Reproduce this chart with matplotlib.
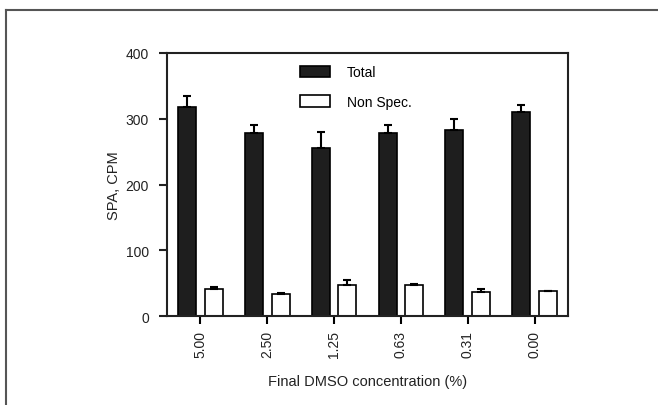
import numpy as np
import matplotlib
matplotlib.use("Agg")
import matplotlib.pyplot as plt
from matplotlib.lines import Line2D

plt.rcParams['font.family'] = ['Liberation Sans', 'DejaVu Sans']

conc = ["5.00", "2.50", "1.25", "0.63", "0.31", "0.00"]
total = [318, 278, 256, 279, 283, 310]
total_err = [16, 12, 24, 11, 17, 11]
nonspec = [41, 33.5, 47.5, 47.5, 36, 37.5]
nonspec_err = [2.5, 2, 7, 1, 5, 0.5]

fig = plt.figure(figsize=(6.58, 4.06), dpi=100)
ax = fig.add_axes([0.2538, 0.2192, 0.6094, 0.6478])

x = np.arange(len(conc))
w = 0.27
off = 0.2
ax.bar(x - off, total, w, color='#1e1e1e', edgecolor='black', linewidth=1.2,
       yerr=[np.zeros(len(x)), total_err], capsize=3,
       error_kw=dict(elinewidth=1.5, capthick=1.5, ecolor='black'), label='Total', zorder=2)
ax.bar(x + off, nonspec, w, color='white', edgecolor='black', linewidth=1.2,
       yerr=[np.zeros(len(x)), nonspec_err], capsize=3,
       error_kw=dict(elinewidth=1.5, capthick=1.5, ecolor='black'), label='Non Spec.', zorder=2)

ax.set_xlim(-0.5, 5.5)
ax.set_ylim(0, 400)
ax.set_yticks([0, 100, 200, 300, 400])
ax.set_xticks(x)
ax.set_xticklabels(conc, rotation=90, fontsize=10, color='#222222')
ax.tick_params(axis='y', labelsize=10, colors='#222222', length=6, width=1.5, pad=7)
ax.tick_params(axis='x', length=6, width=1.5, pad=4)
for s in ax.spines.values():
    s.set_linewidth(1.5)
    s.set_color('#222222')

ax.set_ylabel('SPA, CPM', fontsize=10.5, color='#222222', labelpad=3)
ax.set_xlabel('Final DMSO concentration (%)', fontsize=10.5, color='#222222', labelpad=12)

ax.legend(loc='upper left', bbox_to_anchor=(0.3, 1.0), frameon=False, fontsize=10,
          handlelength=2.2, handleheight=0.9, labelspacing=1.1, handletextpad=1.2)

# outer frame lines
fig.add_artist(Line2D([6/658, 1], [1 - 11/406, 1 - 11/406], color='#555555', lw=1.5))
fig.add_artist(Line2D([6/658, 6/658], [0, 1 - 11/406], color='#555555', lw=1.5))

fig.savefig('out.png', dpi=100)
